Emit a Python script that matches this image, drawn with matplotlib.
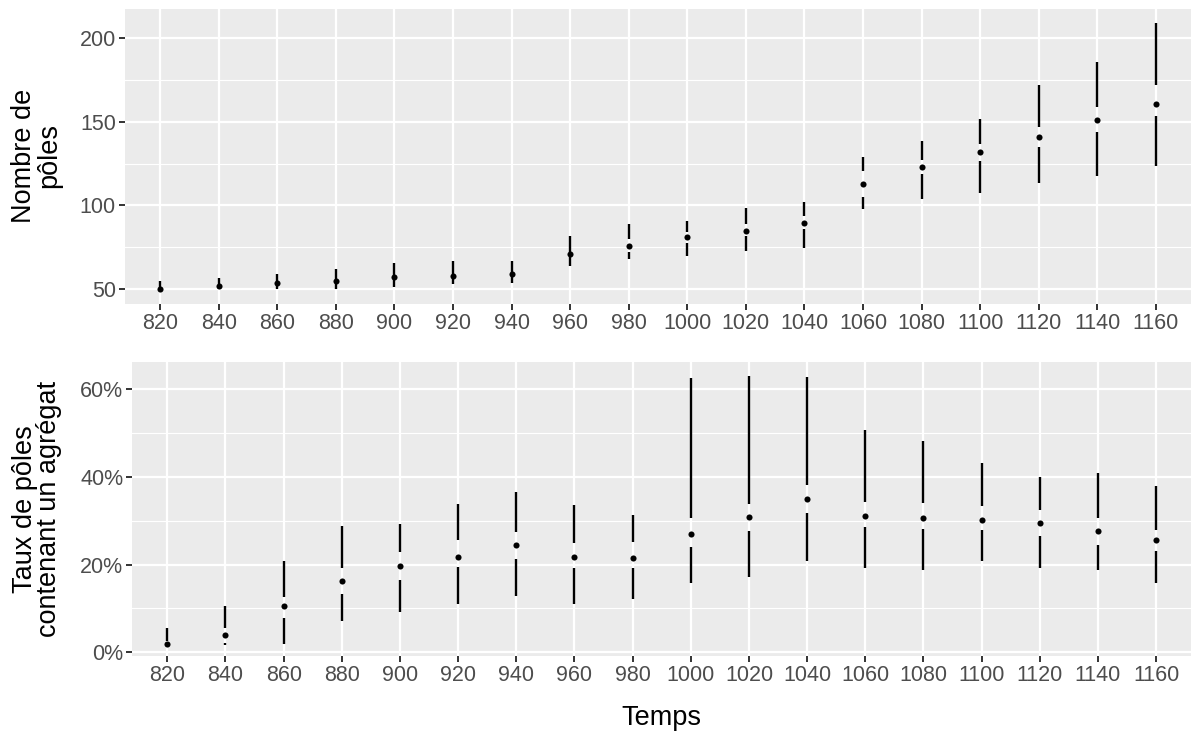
import numpy as np
import matplotlib.pyplot as plt
from matplotlib.ticker import PercentFormatter, FixedLocator

plt.rcParams['font.family'] = ['Liberation Sans', 'DejaVu Sans']

temps = [820, 840, 860, 880, 900, 920, 940, 960, 980, 1000,
         1020, 1040, 1060, 1080, 1100, 1120, 1140, 1160]

# nombre de pôles : médiane, quartiles, extrêmes des moustaches
nb_med = [50, 52, 53.9, 54.9, 57.1, 58.1, 59.1, 70.8, 76.0, 81.0,
          84.9, 89.5, 112.9, 122.8, 131.7, 140.8, 150.8, 160.7]
nb_lo = [49.3, 50, 50.2, 50, 51.2, 53, 53.9, 63.9, 67.9, 69.8,
         72.8, 74.8, 97.8, 103.8, 107.7, 113.7, 117.6, 123.8]
nb_hi = [54.9, 56.9, 58.9, 61.9, 65.8, 66.8, 66.8, 81.9, 88.9, 90.8,
         98.8, 102, 129, 138.7, 151.8, 171.6, 185.7, 208.5]
nb_q1 = [50, 51, 53, 54, 56, 57, 58, 69.5, 72.4, 77.4,
         81.7, 85.7, 105.1, 118.6, 126.5, 134.7, 143.6, 153.6]
nb_q3 = [50.5, 53, 55, 56, 58, 59, 60, 72, 79.8, 84.3,
         88.7, 93.8, 120.6, 127.4, 136.5, 146.6, 158.5, 171.6]

# taux de pôles contenant un agrégat (%)
tx_med = [1.9, 3.8, 10.6, 16.3, 19.6, 21.8, 24.5, 21.7, 21.6, 26.9,
          30.8, 34.9, 31.1, 30.7, 30.1, 29.5, 27.6, 25.6]
tx_lo = [1.9, 1.7, 1.9, 7.2, 9.2, 11.0, 12.8, 11.0, 12.1, 15.8,
         17.1, 20.9, 19.2, 18.8, 20.8, 19.1, 18.8, 15.7]
tx_hi = [5.6, 10.6, 20.9, 28.7, 29.2, 33.8, 36.5, 33.7, 31.4, 62.5,
         63.0, 62.8, 50.8, 48.2, 43.2, 40.1, 40.9, 37.9]
tx_q1 = [1.9, 2.1, 7.8, 13.2, 16.5, 19.5, 21.3, 19.3, 19.3, 23.9,
         27.7, 31.7, 28.5, 28.1, 27.8, 26.6, 24.5, 23.0]
tx_q3 = [2.5, 5.6, 12.6, 19.1, 22.8, 25.7, 27.4, 25.0, 25.2, 30.7,
         33.9, 38.1, 34.3, 34.1, 33.3, 32.4, 30.7, 27.9]

W, H = 1194, 742
fig = plt.figure(figsize=(W / 100, H / 100), dpi=100)


def panneau(box, med, lo, q1, q3, hi, ylim, yticks, minor):
    l, t, r, b = box
    ax = fig.add_axes([l / W, 1 - b / H, (r - l) / W, (b - t) / H])
    ax.set_facecolor('#EBEBEB')
    for s in ax.spines.values():
        s.set_visible(False)
    x = np.arange(len(temps))
    ax.set_xlim(-0.6, len(temps) - 0.4)
    ax.set_ylim(*ylim)
    ax.set_xticks(x)
    ax.set_xticklabels([str(t) for t in temps])
    ax.set_yticks(yticks)
    ax.yaxis.set_minor_locator(FixedLocator(minor))
    ax.grid(True, which='major', color='white', lw=1.6)
    ax.grid(True, which='minor', axis='y', color='white', lw=0.8)
    ax.set_axisbelow(True)
    ax.tick_params(which='major', length=4, width=1.4, color='#333333',
                   labelsize=15.5, labelcolor='#4D4D4D', pad=2.5)
    ax.tick_params(which='minor', length=0)
    # moustaches (style boxplot de Tufte)
    ax.vlines(x, lo, q1, color='black', lw=1.7)
    ax.vlines(x, q3, hi, color='black', lw=1.7)
    ax.plot(x, med, 'o', color='black', ms=4.4, mew=0)
    return ax


ax1 = panneau((125, 9, 1191, 304), nb_med, nb_lo, nb_q1, nb_q3, nb_hi,
              (41.3, 217.1), [50, 100, 150, 200], [75, 125, 175])
ax2 = panneau((132.4, 362.3, 1191, 656), tx_med, tx_lo, tx_q1, tx_q3, tx_hi,
              (-0.9, 66.2), [0, 20, 40, 60], [10, 30, 50])
ax2.yaxis.set_major_formatter(PercentFormatter(decimals=0))

fig.text(37 / W, 1 - 156 / H, 'Nombre de\npôles', rotation=90,
         ha='center', va='center', multialignment='center', fontsize=19.5,
         linespacing=0.95)
fig.text(37 / W, 1 - 509 / H, 'Taux de pôles\ncontenant un agrégat', rotation=90,
         ha='center', va='center', multialignment='center', fontsize=19.5,
         linespacing=0.95)
fig.text((132.4 + 1191) / 2 / W, 1 - 718 / H, 'Temps',
         ha='center', va='center', fontsize=19.5)

fig.savefig('out.png', dpi=100, facecolor='white')
